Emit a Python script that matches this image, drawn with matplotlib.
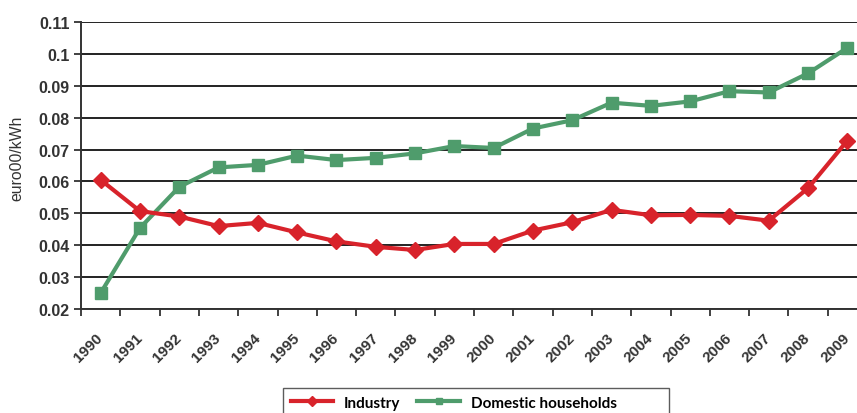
import matplotlib
matplotlib.use("Agg")
import matplotlib.pyplot as plt
from matplotlib.lines import Line2D

years = [str(y) for y in range(1990, 2010)]
industry = [0.0605, 0.0507, 0.0490, 0.0460, 0.0470, 0.0440, 0.0412, 0.0395, 0.0385,
            0.0404, 0.0404, 0.0446, 0.0472, 0.0511, 0.0494, 0.0495, 0.0492, 0.0477,
            0.0579, 0.0728]
domestic = [0.0250, 0.0454, 0.0583, 0.0644, 0.0652, 0.0681, 0.0667, 0.0674, 0.0688,
            0.0711, 0.0705, 0.0766, 0.0792, 0.0847, 0.0837, 0.0851, 0.0883, 0.0879,
            0.0939, 0.1019]
yticks = [0.02, 0.03, 0.04, 0.05, 0.06, 0.07, 0.08, 0.09, 0.10, 0.11]
yticklabels = ["0.02", "0.03", "0.04", "0.05", "0.06", "0.07", "0.08", "0.09", "0.1", "0.11"]

red = "#d8232b"
green = "#4f9c6c"

plt.rcParams['font.family'] = ['Liberation Sans', 'DejaVu Sans']

W, H = 857, 414
fig = plt.figure(figsize=(W / 100, H / 100), dpi=100)
ax = fig.add_axes([81 / W, 1 - 310 / H, (867 - 81) / W, (310 - 23) / H])

x = list(range(len(years)))
ax.plot(x, industry, color=red, lw=3, marker='D', ms=8, mec=red, mfc=red, zorder=4)
ax.plot(x, domestic, color=green, lw=3, marker='s', ms=8, mec=green, mfc=green, zorder=3)

ax.set_xlim(-0.5, len(years) - 0.5)
ax.set_ylim(0.02, 0.11)
ax.set_yticks(yticks)
ax.set_yticklabels(yticklabels, fontsize=11.5, fontweight='bold', color='#333333')
ax.yaxis.grid(True, color='#222222', lw=1.4)
ax.set_axisbelow(True)

ax.set_xticks(x)
ax.set_xticklabels(years, rotation=45, ha='right', va='center', rotation_mode='anchor',
                   fontsize=11, fontweight='bold', color='#333333')
ax.set_xticks([i - 0.5 for i in range(len(years) + 1)], minor=True)
ax.tick_params(axis='x', which='major', length=0, pad=19)
ax.tick_params(axis='x', which='minor', length=5, width=1.3, color='#333333')
ax.tick_params(axis='y', length=5, width=1.3, color='#333333', pad=3)

for s in ['top', 'right']:
    ax.spines[s].set_visible(False)
for s in ['left', 'bottom']:
    ax.spines[s].set_color('#333333')
    ax.spines[s].set_linewidth(1.4)

ax.set_ylabel("euro00/kWh", fontsize=11.3, color='#333333')
ax.yaxis.set_label_coords(-(81 - 24) / (867 - 81), 0.53)

handles = [Line2D([], [], color=red, lw=3, marker='D', ms=5),
           Line2D([], [], color=green, lw=3, marker='s', ms=5)]
leg = fig.legend(handles, ["Industry", "Domestic households            "], loc='upper left',
                 bbox_to_anchor=(283 / W, 1 - 389 / H), ncol=2, frameon=True, fancybox=False,
                 edgecolor='#333333', handlelength=2.8, columnspacing=1.1, handletextpad=0.7,
                 prop={'family': ['Lato', 'DejaVu Sans'], 'weight': 'bold', 'size': 11},
                 borderpad=0.5, borderaxespad=0)
leg.get_frame().set_linewidth(1.0)

fig.savefig("out.png", dpi=100)
